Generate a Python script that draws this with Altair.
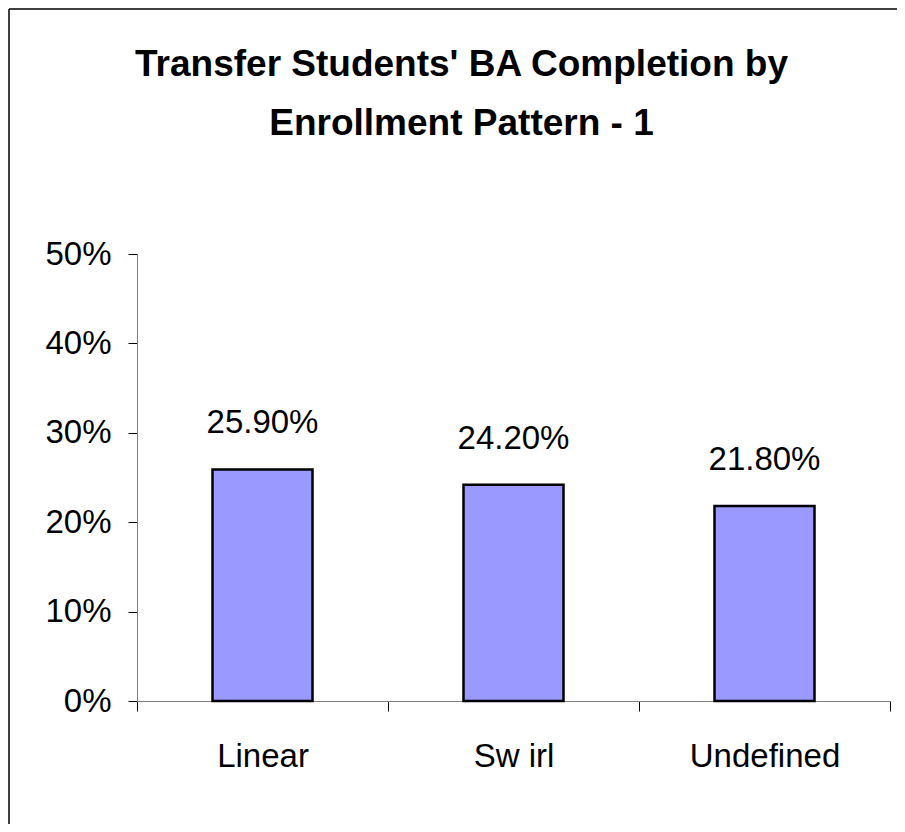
import altair as alt
import pandas as pd

categories = ["Linear", "Sw irl", "Undefined"]
rates = [0.259, 0.242, 0.218]
y_ticks = [0, 0.1, 0.2, 0.3, 0.4, 0.5]
title_lines = ["Transfer Students' BA Completion by", "Enrollment Pattern - 1"]

df = pd.DataFrame({"pattern": categories, "rate": rates})
FONT = "Liberation Sans, Arial, sans-serif"

W, H = 753, 447

x = alt.X(
    "pattern:N",
    sort=categories,
    scale=alt.Scale(paddingInner=0, paddingOuter=0),
    axis=alt.Axis(
        title=None, labelAngle=0, tickBand="extent", tickSize=10,
        tickColor="black", domainColor="#808080", labelFont=FONT,
        labelFontSize=33, labelColor="black", labelPadding=29,
    ),
)
y = alt.Y(
    "rate:Q",
    scale=alt.Scale(domain=[0, 0.5], nice=False),
    axis=alt.Axis(
        title=None, values=y_ticks, format=".0%", grid=False, tickSize=9,
        tickColor="black", domainColor="#808080", labelFont=FONT,
        labelFontSize=33, labelPadding=17, labelColor="black",
    ),
)

bars = alt.Chart(df).mark_bar(
    size=100, color="#9999FF", stroke="black", strokeWidth=2.5
).encode(x=x, y=y)

labels = alt.Chart(df).mark_text(
    font=FONT, fontSize=33, dy=-36, baseline="alphabetic", color="black"
).encode(x=x, y=y, text=alt.Text("rate:Q", format=".2%"))

border_data = alt.Data(values=[{"a": 1}])
left_edge = alt.Chart(border_data).mark_rule(color="black", strokeWidth=1.5).encode(
    x=alt.value(-128), y=alt.value(-245), y2=alt.value(H + 123)
)
top_edge = alt.Chart(border_data).mark_rule(color="black", strokeWidth=1.5).encode(
    x=alt.value(-128), x2=alt.value(W + 7), y=alt.value(-245)
)

chart = alt.layer(bars, labels, left_edge, top_edge).properties(
    width=W,
    height=H,
    autosize=alt.AutoSizeParams(type="none"),
    padding={"left": 129, "top": 246, "right": 7, "bottom": 123},
    background="white",
    title=alt.TitleParams(
        text=title_lines, font=FONT, fontSize=37, fontWeight="bold",
        color="black", anchor="middle", dx=-52, offset=-172,
        baseline="bottom", lineHeight=59,
    ),
).configure_view(stroke=None)

chart.save("out.html", embed_options={"renderer": "svg", "actions": False})
